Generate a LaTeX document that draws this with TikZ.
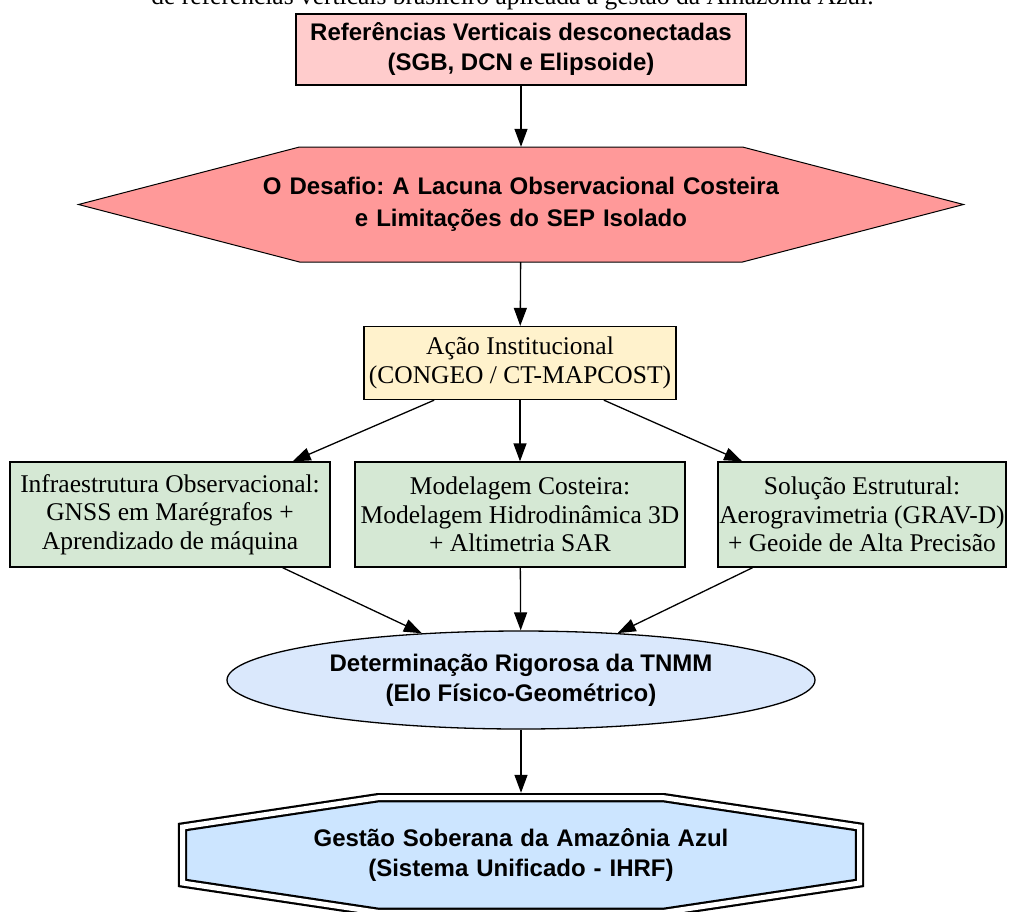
\documentclass[tikz,border=0pt]{standalone}
\usepackage{fontspec}
\setmainfont{Liberation Serif}
\setsansfont{Liberation Sans}
\frenchspacing
\usetikzlibrary{arrows.meta, calc, shapes.geometric, backgrounds}

\definecolor{refpink}{HTML}{FFCCCC}
\definecolor{desafiored}{HTML}{FF9999}
\definecolor{acaoyellow}{HTML}{FFF2CC}
\definecolor{greenfill}{HTML}{D5E8D4}
\definecolor{ellipseblue}{HTML}{DAE8FC}
\definecolor{gestaoblue}{HTML}{CCE5FF}

\tikzset{
	box/.style={draw, line width=1.3pt, inner sep=0pt, align=center},
	serif/.style={font=\fontsize{25.5}{28.5}\selectfont},
	heavy/.style={font=\fontsize{24}{30}\selectfont\sffamily\bfseries},
	link/.style={-{Triangle[length=18pt, width=13pt]}, line width=1.3pt},
}

\begin{document}
\begin{tikzpicture}[x=1pt, y=-1pt]
			\useasboundingbox (0, 0) rectangle (1009, 911);
			\clip (0, 0) rectangle (1009, 911);
			
			\node[serif, anchor=base] (caption) at (512.5, 4) {de referências verticais brasileiro aplicada à gestão da Amazônia Azul.};
			
			\node[box, heavy, fill=refpink, minimum width=450, minimum height=71] (refs) at (521, 49.5) {Referências Verticais desconectadas\\(SGB, DCN e Elipsoide)};
			\node[heavy, align=center, inner sep=0pt, text width=620, minimum height=115] (desafio) at (521, 204.5) {O Desafio: A Lacuna Observacional Costeira\\[2pt]e Limitações do SEP Isolado};
			\node[box, serif, fill=acaoyellow, minimum width=312, minimum height=73] (acao) at (520, 363) {Ação Institucional\\(CONGEO / CT-MAPCOST)};
			
			\node[box, serif, fill=greenfill, minimum width=320, minimum height=105] (infra) at (170, 514.5) {Infraestrutura Observacional:\\GNSS em Marégrafos +\\Aprendizado de máquina};
			\node[box, serif, fill=greenfill, minimum width=330, minimum height=105] (modelagem) at (520, 514.5) {Modelagem Costeira:\\Modelagem Hidrodinâmica 3D\\+ Altimetria SAR};
			\node[box, serif, fill=greenfill, minimum width=288, minimum height=105] (solucao) at (862, 514.5) {Solução Estrutural:\\Aerogravimetria (GRAV-D)\\+ Geoide de Alta Precisão};
			
			\node[box, heavy, ellipse, fill=ellipseblue, minimum width=588, minimum height=98] (tnmm) at (521, 680) {Determinação Rigorosa da TNMM\\(Elo Físico-Geométrico)};
			\node[heavy, align=center, inner sep=0pt, text width=560, minimum height=124] (gestao) at (521, 855) {Gestão Soberana da Amazônia Azul\\(Sistema Unificado - IHRF)};
			
			% hexagon and double octagon behind their texts
			\begin{scope}[on background layer]
				\draw[fill=desafiored, line width=1pt] ($(desafio.center) + (-221.5, -57.5)$) -- ($(desafio.center) + (221.5, -57.5)$) -- ($(desafio.center) + (442.5, 0)$) -- ($(desafio.center) + (221.5, 57.5)$) -- ($(desafio.center) + (-221.5, 57.5)$) -- ($(desafio.center) + (-442.5, 0)$) -- cycle;
				\draw[fill=gestaoblue, line width=2.2pt, double=white, double distance=5pt] ($(gestao.center) + (-143, -57.3)$) -- ($(gestao.center) + (143, -57.3)$) -- ($(gestao.center) + (338.5, -28)$) -- ($(gestao.center) + (338.5, 28)$) -- ($(gestao.center) + (143, 57.3)$) -- ($(gestao.center) + (-143, 57.3)$) -- ($(gestao.center) + (-338.5, 28)$) -- ($(gestao.center) + (-338.5, -28)$) -- cycle;
			\end{scope}
			
			\draw[link] (refs) -- (desafio);
			\draw[link] (desafio) -- (acao);
			\draw[link] (acao) -- (infra);
			\draw[link] (acao) -- (modelagem);
			\draw[link] (acao) -- (solucao);
			\draw[link] (infra) -- (tnmm);
			\draw[link] (modelagem) -- (tnmm);
			\draw[link] (solucao) -- (tnmm);
			\draw[link] (tnmm) -- (gestao);
			
		\end{tikzpicture}
\end{document}
